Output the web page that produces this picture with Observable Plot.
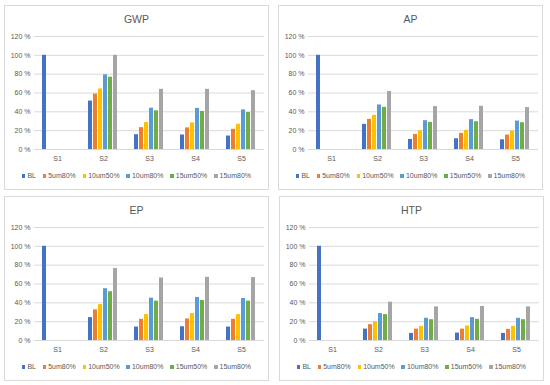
<!DOCTYPE html>
<html><head><meta charset="utf-8">
<script src="https://cdn.jsdelivr.net/npm/d3@7"></script>
<script src="https://cdn.jsdelivr.net/npm/@observablehq/plot@0.6"></script>
<style>
body{margin:0;background:#fff;width:550px;height:385px;position:relative;overflow:hidden;font-family:"Liberation Sans",Arial,sans-serif;}
.panel{position:absolute;width:265px;height:185px;background:#fff;}
.frame{position:absolute;left:0;top:0;width:265px;height:185px;box-sizing:border-box;border:1px solid #d9d9d9;pointer-events:none;}
.title{position:absolute;left:0;width:265px;top:7px;text-align:center;font-size:10.5px;color:#595959;line-height:14px;}
.legend{position:absolute;left:0;width:265px;top:166px;display:flex;justify-content:center;font-size:7px;color:#595959;line-height:10px;white-space:nowrap;}
.item{display:flex;align-items:center;margin:0 3.4px;}
.sw{width:3.5px;height:3.5px;margin-right:2px;}
.panel svg{position:absolute;left:0;top:0;}
</style></head><body>
<script>
// ---- data ----
const scenarios = ["S1", "S2", "S3", "S4", "S5"];
const series = ["BL", "5um80%", "10um50%", "10um80%", "15um50%", "15um80%"];
const colors = ["#4472C4", "#ED7D31", "#FFC000", "#5B9BD5", "#70AD47", "#A5A5A5"];
const yTicks = [0, 20, 40, 60, 80, 100, 120];

// rows = series (in order above), columns = scenarios S1..S5 (values in %)
const gwp = [
  [100, 51.4, 15.7, 15.4, 14.3],
  [null, 58.9, 23.2, 22.9, 21.4],
  [null, 64.3, 28.6, 28.2, 26.8],
  [null, 79.3, 43.9, 43.6, 42.1],
  [null, 76.8, 41.1, 40.4, 39.3],
  [null, 100, 63.9, 63.9, 62.5]
];
const ap = [
  [100, 26.7, 10.7, 11.4, 10.3],
  [null, 32.0, 16.0, 17.1, 15.3],
  [null, 36.3, 19.9, 20.3, 19.6],
  [null, 47.3, 30.6, 31.7, 30.2],
  [null, 44.8, 28.8, 29.5, 28.5],
  [null, 61.6, 45.6, 45.9, 44.5]
];
const ep = [
  [100, 24.3, 14.3, 14.6, 14.3],
  [null, 32.5, 22.5, 22.9, 22.5],
  [null, 38.2, 27.5, 28.6, 27.5],
  [null, 55.0, 45.0, 45.7, 44.6],
  [null, 51.8, 41.8, 42.5, 41.8],
  [null, 76.4, 66.4, 67.1, 66.8]
];
const htp = [
  [100, 12.1, 7.5, 7.9, 7.5],
  [null, 16.8, 12.1, 12.1, 11.8],
  [null, 20.0, 15.0, 15.4, 15.0],
  [null, 28.6, 23.6, 24.3, 23.6],
  [null, 27.5, 22.1, 22.5, 22.1],
  [null, 40.7, 35.7, 36.1, 35.7]
];
const titles = ["GWP", "AP", "EP", "HTP"];
const tables = [gwp, ap, ep, htp];

// ---- layout ----
const layout = [
  {left: 4, top: 5},
  {left: 278, top: 5},
  {left: 4, top: 196},
  {left: 279, top: 196}
];
const FONT = '"Liberation Sans",Arial,sans-serif';

tables.forEach((table, k) => {
  const rows = [];
  table.forEach((vals, i) => vals.forEach((v, j) => {
    if (v != null) rows.push({series: series[i], scenario: scenarios[j], value: v});
  }));

  const panel = document.createElement("div");
  panel.className = "panel";
  panel.style.left = layout[k].left + "px";
  panel.style.top = layout[k].top + "px";

  const chart = Plot.plot({
    width: 265, height: 185,
    marginTop: 31, marginBottom: 41, marginLeft: 29, marginRight: 4,
    style: {fontFamily: FONT, fontSize: "7px", color: "#595959", background: "transparent", overflow: "visible"},
    facet: {data: rows, x: "scenario"},
    fx: {domain: scenarios, padding: 0, axis: "bottom", label: null, tickSize: 0, tickPadding: 7},
    x: {domain: series, axis: null, paddingInner: 0.12, paddingOuter: 0.96},
    y: {domain: [0, 120], ticks: yTicks, tickFormat: d => d + " %", tickSize: 0, tickPadding: 4, label: null},
    color: {domain: series, range: colors},
    marks: [
      Plot.ruleY(yTicks, {stroke: "#d9d9d9", strokeWidth: 1}),
      Plot.barY(rows, {x: "series", y: "value", fill: "series"})
    ]
  });
  panel.appendChild(chart);

  const title = document.createElement("div");
  title.className = "title";
  title.textContent = titles[k];
  panel.appendChild(title);

  const legend = document.createElement("div");
  legend.className = "legend";
  series.forEach((s, i) => {
    const item = document.createElement("div");
    item.className = "item";
    const sw = document.createElement("span");
    sw.className = "sw";
    sw.style.background = colors[i];
    const t = document.createElement("span");
    t.textContent = s;
    item.appendChild(sw); item.appendChild(t);
    legend.appendChild(item);
  });
  panel.appendChild(legend);

  const frame = document.createElement("div");
  frame.className = "frame";
  panel.appendChild(frame);

  document.body.appendChild(panel);
});
</script>
</body></html>
